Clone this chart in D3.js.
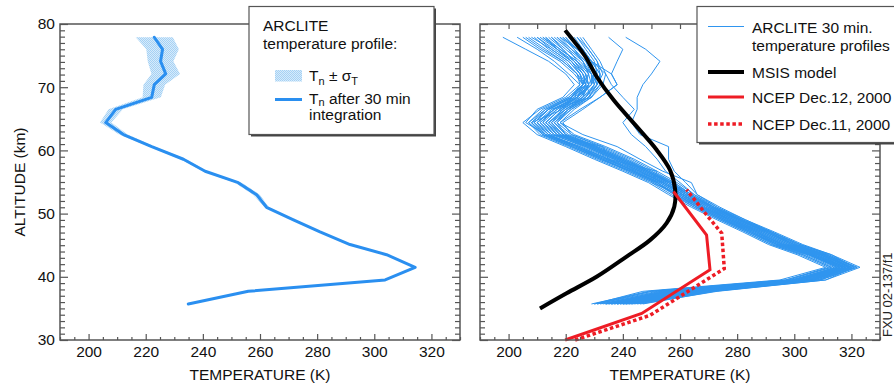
<!DOCTYPE html>
<html><head><meta charset="utf-8">
<script src="https://cdn.jsdelivr.net/npm/d3@7"></script>
<style>
html,body{margin:0;padding:0;background:#fff;}
svg{display:block;font-family:"Liberation Sans",Arial,Helvetica,sans-serif;}
</style></head>
<body>
<svg id="chart" width="894" height="387"></svg>
<script>
// ---------------- DATA ----------------
const altitudes = [77.9,76.0,74.1,72.1,70.4,68.4,66.5,64.4,62.5,60.6,58.6,56.7,54.9,53.0,51.0,49.0,47.1,45.1,43.5,41.5,39.5,37.7,35.7];
const tn = [223.0,225.9,225.2,227.0,223.0,222.1,209.5,206.0,212.2,222.1,233.2,240.8,252.4,258.8,262.3,271.7,281.0,291.5,304.3,314.3,303.8,255.9,234.9];
const sigmaT = [6.5,5.7,4.5,5.0,3.8,3.2,2.5,2.0,1.5,1.0,1.0,0.8,1.2,1.2,0.8,0.6,0.6,0.6,0.6,0.6,0.5,0.5,0.5];

const arcliteProfiles = [
 [198,206,214,220,223,219,210,206,213,224,233,242,251,259,266,275,284,294,305,316,302,254,232],
 [203,210,216,221,225,222,214,208,212,222,232,243,252,258,265,274,283,292,303,313,298,250,230],
 [206,212,219,224,226,223,216,210,215,227,237,246,254,261,268,278,287,296,307,318,304,262,238],
 [208,215,221,225,227,224,218,213,217,228,238,247,255,262,270,279,289,298,309,320,307,266,241],
 [210,216,222,226,228,226,220,214,218,230,240,249,257,263,272,281,291,300,311,322,309,270,244],
 [212,217,222,225,226,221,212,207,211,221,231,241,250,257,265,274,283,292,302,312,297,249,229],
 [213,218,224,228,229,225,217,211,216,231,234,245,254,261,268,277,286,295,306,317,301,257,235],
 [215,220,225,229,230,227,221,216,220,231,241,250,258,264,272,282,292,302,313,323,311,272,247],
 [216,221,224,227,226,222,214,209,213,223,234,244,253,260,267,276,285,294,305,315,299,253,233],
 [217,221,226,229,229,224,215,210,214,224,235,252,250,260,268,278,288,297,308,318,305,264,239],
 [218,222,227,230,231,228,222,217,222,233,243,251,258,264,271,280,290,299,310,320,308,268,243],
 [219,223,226,228,227,222,219,208,212,222,232,242,251,258,266,275,284,293,304,314,300,255,234],
 [220,224,228,231,230,226,219,214,219,229,239,248,256,262,269,279,289,298,309,319,306,267,240],
 [221,225,228,230,229,224,216,211,215,233,235,246,254,261,268,277,287,296,307,317,303,260,237],
 [222,226,229,232,232,229,223,218,223,234,244,252,259,265,273,283,293,303,313,321,309,271,245],
 [224,227,230,231,229,223,214,209,213,223,233,243,252,259,266,275,285,294,305,315,299,252,231],
 [225,228,231,233,231,226,218,213,218,228,238,247,255,262,270,279,288,297,308,318,304,262,238],
 [226,229,232,234,233,229,222,216,221,231,241,249,256,263,271,281,291,300,310,319,306,266,240],
 [209,214,220,224,225,220,211,205,210,220,230,240,249,256,264,273,282,291,301,311,295,247,230],
 [214,219,223,226,227,229,215,212,217,227,237,246,254,261,269,278,287,296,306,316,302,258,236],
 [211,217,223,227,228,225,219,215,219,229,239,248,256,263,270,280,290,300,311,321,311,273,246],
 [223,226,229,230,228,222,213,207,212,222,233,243,252,259,267,276,285,295,306,316,301,256,235],
 [205,211,218,223,226,224,217,212,216,226,236,245,254,261,268,277,286,296,307,317,303,261,236],
 [212,218,224,229,231,228,221,215,219,229,239,248,256,262,270,279,289,298,309,319,306,267,241],
 [217,222,226,228,226,221,213,208,213,224,234,244,253,260,267,276,286,295,306,316,300,255,234],
 [220,223,227,229,230,227,220,214,218,228,238,247,255,261,269,278,288,297,308,318,305,263,239],
 [207,213,219,224,227,226,221,217,220,230,240,249,257,264,272,282,292,302,312,321,308,270,242],
 [215,219,223,227,228,224,216,210,214,225,235,244,253,260,267,276,285,294,305,315,301,256,234],
 [224,228,231,232,231,227,220,215,219,229,239,248,256,263,271,281,291,301,311,320,307,269,242],
 [210,215,221,225,226,222,214,209,214,225,235,244,252,259,266,275,284,293,303,313,297,250,231],
 [219,224,229,232,232,228,221,216,220,230,240,249,257,263,271,281,290,299,310,320,306,265,240],
 [213,217,222,226,227,224,218,213,217,227,237,246,254,261,268,277,287,296,307,317,302,259,237],
 [235,240,238,236,238,232,226,219,222,232,242,250,257,263,271,280,290,299,309,318,302,258,236],
 [241,248,253,250,247,245,245,243,246,256,256,258,262,266,273,282,292,301,311,320,306,266,241],
 [222,226,229,234,236,240,244,240,243,248,252,255,260,265,272,281,291,300,310,319,304,262,238],
 [218,224,229,236,238,232,225,218,226,238,246,254,264,266,274,283,292,302,312,322,309,271,243]
];

const msisAlt = [79.0,74.9,71.7,68.0,63.8,60.1,56.9,53.8,51.1,48.5,45.8,43.2,40.0,37.4,35.0];
const msisT   = [219.8,226.8,230.8,236.7,244.8,251.8,256.5,258.3,258.0,255.3,249.5,241.3,230.8,220.3,211.0];

const ncep12Alt = [30.0,34.2,41.1,46.6,53.5];
const ncep12T   = [219.8,246.6,270.5,269.3,257.7];
const ncep11Alt = [30.0,33.9,41.3,46.9,49.5,53.8];
const ncep11T   = [223.3,249.5,275.5,274.6,269.8,262.3];

const xTickLabels = [200,220,240,260,280,300,320];
const yTickLabels = [30,40,50,60,70,80];

// ---------------- DRAW ----------------
const svg = d3.select("#chart");
const BLUE = "#2a8ff0", THIN = "#2f95ef", RED = "#ee1c25", FRAME = "#555";
const defs = svg.append("defs");
const pat = defs.append("pattern").attr("id","dots").attr("width",2).attr("height",2).attr("patternUnits","userSpaceOnUse");
pat.append("rect").attr("width",2).attr("height",2).attr("fill","#d6ebfb");
pat.append("rect").attr("width",1).attr("height",1).attr("fill","#a6d1f4");
pat.append("rect").attr("x",1).attr("y",1).attr("width",1).attr("height",1).attr("fill","#a6d1f4");

const y = d3.scaleLinear().domain([30,80]).range([340,24]);
const xL = d3.scaleLinear().domain([190,330]).range([60,460]);
const xR = d3.scaleLinear().domain([190,330]).range([480,880]);
const fs = 15.5;

function frame(x, opts) {
  const g = svg.append("g");
  const minorX = d3.range(190,331,5), majorX = xTickLabels;
  g.append("g").attr("transform",`translate(0,${y(30)})`)
    .call(d3.axisBottom(x).tickValues(minorX.filter(v=>v%20!==0)).tickSize(-3).tickFormat(""));
  g.append("g").attr("transform",`translate(0,${y(30)})`)
    .call(d3.axisBottom(x).tickValues(majorX).tickSize(-6).tickPadding(6).tickFormat(d3.format("d")));
  const minorY = d3.range(30,81,1).filter(v=>v%10!==0);
  g.append("g").attr("transform",`translate(${x.range()[0]},0)`)
    .call(d3.axisLeft(y).tickValues(minorY).tickSize(-5).tickFormat(""));
  g.append("g").attr("transform",`translate(${x.range()[0]},0)`)
    .call(d3.axisLeft(y).tickValues(yTickLabels).tickSize(-8).tickPadding(5).tickFormat(opts.yLabels ? d3.format("d") : ""));
  g.append("g").attr("transform",`translate(${x.range()[1]},0)`)
    .call(d3.axisRight(y).tickValues(minorY).tickSize(-5).tickFormat(""));
  g.append("g").attr("transform",`translate(${x.range()[1]},0)`)
    .call(d3.axisRight(y).tickValues(yTickLabels).tickSize(-8).tickFormat(""));
  if (opts.top) {
    g.append("g").attr("transform",`translate(0,${y(80)})`)
      .call(d3.axisTop(x).tickValues(d3.range(200,321,10)).tickSize(-5).tickFormat(""));
  }
  g.selectAll(".domain").remove();
  g.selectAll(".tick line").attr("stroke",FRAME).attr("stroke-width",1.2);
  g.selectAll(".tick text").attr("font-size",fs).attr("fill","#111").attr("font-family","Liberation Sans, Arial, sans-serif");
  g.append("rect").attr("x",x.range()[0]).attr("y",y(80)).attr("width",x.range()[1]-x.range()[0]).attr("height",y(30)-y(80))
    .attr("fill","none").attr("stroke",FRAME).attr("stroke-width",1.5);
  svg.append("text").attr("x",(x.range()[0]+x.range()[1])/2).attr("y",380).attr("text-anchor","middle")
    .attr("font-size",fs).attr("fill","#111").text("TEMPERATURE (K)");
}

// ----- Left panel -----
const leftPts = altitudes.map((a,i)=>({a, t: tn[i], s: sigmaT[i]}));
svg.append("path").datum(leftPts)
  .attr("d", d3.area().y(d=>y(d.a)).x0(d=>xL(d.t-d.s)).x1(d=>xL(d.t+d.s)))
  .attr("fill","url(#dots)");
svg.append("path").datum(leftPts)
  .attr("d", d3.line().x(d=>xL(d.t)).y(d=>y(d.a)))
  .attr("fill","none").attr("stroke",BLUE).attr("stroke-width",3).attr("stroke-linejoin","round").attr("stroke-linecap","round");
frame(xL, {yLabels:true, top:false});
svg.append("text").attr("transform",`translate(25,${(y(30)+y(80))/2}) rotate(-90)`).attr("text-anchor","middle")
  .attr("font-size",fs).attr("fill","#111").text("ALTITUDE (km)");

// ----- Right panel -----
const lineR = d3.line().x(d=>xR(d[0])).y(d=>y(d[1]));
const gp = svg.append("g");
arcliteProfiles.forEach(p=>{
  gp.append("path").datum(p.map((t,i)=>[t, altitudes[i]])).attr("d", lineR)
    .attr("fill","none").attr("stroke",THIN).attr("stroke-width",1);
});
svg.append("path").datum(msisT.map((t,i)=>[t, msisAlt[i]]))
  .attr("d", d3.line().x(d=>xR(d[0])).y(d=>y(d[1])).curve(d3.curveCatmullRom.alpha(0.5)))
  .attr("fill","none").attr("stroke","#000").attr("stroke-width",4);
svg.append("path").datum(ncep12T.map((t,i)=>[t, ncep12Alt[i]])).attr("d", lineR)
  .attr("fill","none").attr("stroke",RED).attr("stroke-width",3);
svg.append("path").datum(ncep11T.map((t,i)=>[t, ncep11Alt[i]])).attr("d", lineR)
  .attr("fill","none").attr("stroke",RED).attr("stroke-width",3.5).attr("stroke-dasharray","3.5,2.6");
frame(xR, {yLabels:false, top:true});

// ----- Legends -----
function box(x0,y0,w,h){
  svg.append("rect").attr("x",x0+2).attr("y",y0+2).attr("width",w).attr("height",h).attr("fill","#444");
  svg.append("rect").attr("x",x0).attr("y",y0).attr("width",w).attr("height",h).attr("fill","#fff").attr("stroke","#555").attr("stroke-width",1.2);
}
box(249,6.5,185,128);
const tl = (x,yy,s)=>svg.append("text").attr("x",x).attr("y",yy).attr("font-size",fs).attr("fill","#111").text(s);
tl(263,31,"ARCLITE");
tl(263,48.5,"temperature profile:");
svg.append("rect").attr("x",275).attr("y",70).attr("width",27).attr("height",11.5).attr("fill","url(#dots)");
const t1 = svg.append("text").attr("x",309).attr("y",80.5).attr("font-size",fs).attr("fill","#111");
t1.append("tspan").text("T");
t1.append("tspan").attr("font-size",11).attr("dy",4).text("n");
t1.append("tspan").attr("dy",-4).text(" \u00B1 \u03C3");
t1.append("tspan").attr("font-size",11).attr("dy",4).text("T");
svg.append("line").attr("x1",275).attr("x2",302).attr("y1",99.5).attr("y2",99.5).attr("stroke",BLUE).attr("stroke-width",3);
const t2 = svg.append("text").attr("x",309).attr("y",103.5).attr("font-size",fs).attr("fill","#111");
t2.append("tspan").text("T");
t2.append("tspan").attr("font-size",11).attr("dy",2).text("n");
t2.append("tspan").attr("dy",-2).text(" after 30 min");
tl(309,120,"integration");

box(697,6.5,220,136);
svg.append("line").attr("x1",708).attr("x2",744).attr("y1",26.5).attr("y2",26.5).attr("stroke",THIN).attr("stroke-width",1);
tl(752,33,"ARCLITE 30 min.");
tl(752,50.5,"temperature profiles");
svg.append("line").attr("x1",708).attr("x2",744).attr("y1",72).attr("y2",72).attr("stroke","#000").attr("stroke-width",4);
tl(752,77.5,"MSIS model");
svg.append("line").attr("x1",708).attr("x2",744).attr("y1",97).attr("y2",97).attr("stroke",RED).attr("stroke-width",3);
tl(752,103,"NCEP Dec.12, 2000");
svg.append("line").attr("x1",708).attr("x2",744).attr("y1",124).attr("y2",124).attr("stroke",RED).attr("stroke-width",3.5).attr("stroke-dasharray","3.5,2.6");
tl(752,129.5,"NCEP Dec.11, 2000");

svg.append("text").attr("transform","translate(892,337) rotate(-90)").attr("font-size",13).attr("fill","#222").text("FXU 02-137/f1");
</script>
</body></html>
